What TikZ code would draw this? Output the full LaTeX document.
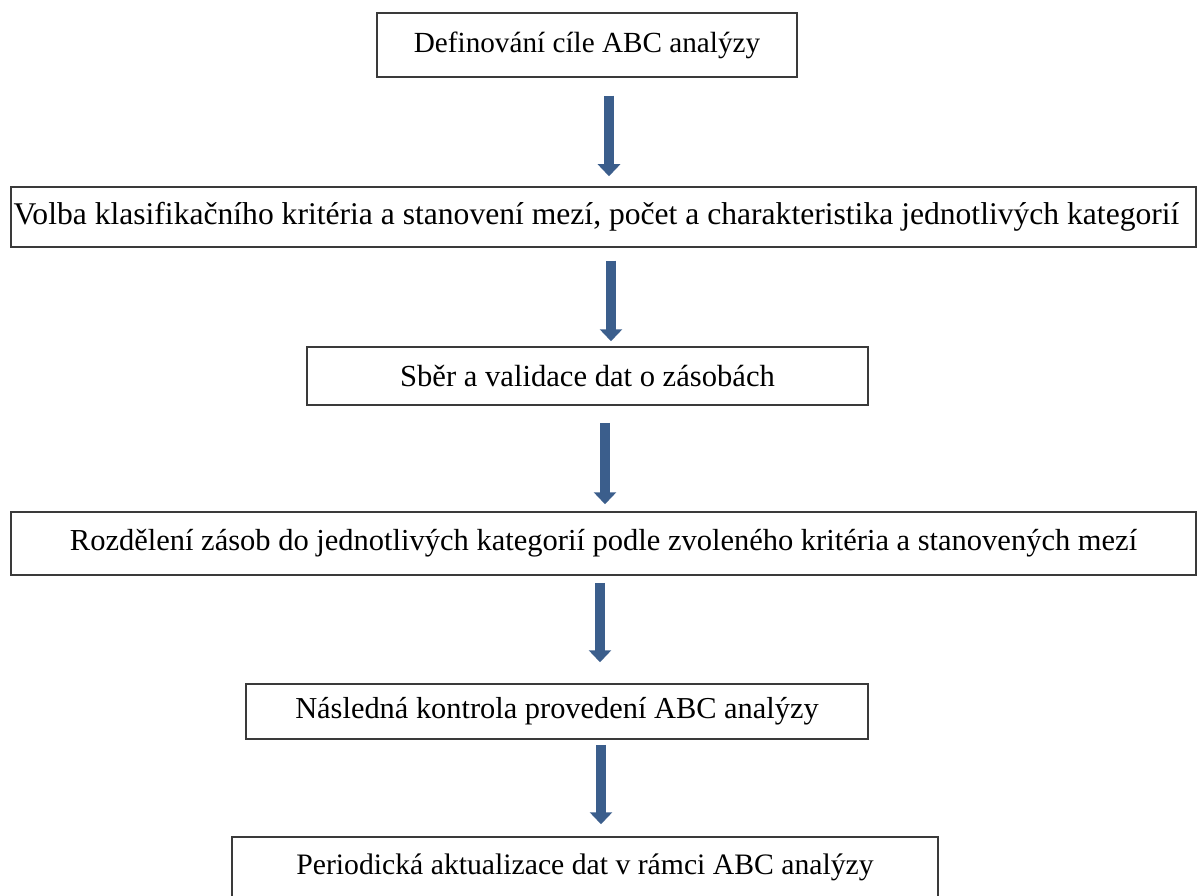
\documentclass[tikz,border=0pt]{standalone}
\usepackage{fontspec}
\setmainfont{Liberation Serif}
\usetikzlibrary{arrows.meta}
\definecolor{boxline}{HTML}{3A3A3A}
\definecolor{arrowblue}{HTML}{3B5E8C}
\begin{document}
\begin{tikzpicture}[x=1pt,y=-1pt,
  stepbox/.style={draw=boxline, line width=1.5pt, inner sep=0pt, fill=white},
  fs/.style={font=\fontsize{#1}{#1}\selectfont},
  blockarrow/.style={draw=arrowblue, line width=10pt,
    -{Triangle[width=22pt,length=12pt]}, arrowblue}]
\useasboundingbox (0,0) rectangle (1197,896);
\clip (0,0) rectangle (1197,896);
\fill[white] (0,0) rectangle (1197,896);
\node[stepbox, fs=29.2, minimum width=420pt, minimum height=64pt] (b1) at (587,45) {Definování cíle ABC analýzy};
\node[stepbox, fs=31.6, minimum width=1185pt, minimum height=60pt] (b2) at (603.5,217) {\hspace*{-14pt}Volba klasifikačního kritéria a stanovení mezí, počet a charakteristika jednotlivých kategorií};
\node[stepbox, fs=30.6, minimum width=561pt, minimum height=58pt] (b3) at (587.5,376) {Sběr a validace dat o zásobách};
\node[stepbox, fs=30.5, minimum width=1185pt, minimum height=63pt] (b4) at (603.5,543.5) {Rozdělení zásob do jednotlivých kategorií podle zvoleného kritéria a stanovených mezí};
\node[stepbox, fs=30.4, minimum width=622pt, minimum height=55pt] (b5) at (557,711.5) {Následná kontrola provedení ABC analýzy};
\node[stepbox, fs=29.7, minimum width=706pt, minimum height=60pt] (b6) at (585,867) {Periodická aktualizace dat v rámci ABC analýzy};
\coordinate (x1) at (609,0);
\coordinate (x2) at (611,0);
\coordinate (x3) at (605,0);
\coordinate (x4) at (600,0);
\coordinate (x5) at (601,0);
\draw[blockarrow, shorten <=18pt, shorten >=10pt] (b1.south -| x1) -- (b2.north -| x1);
\draw[blockarrow, shorten <=13pt, shorten >=5pt] (b2.south -| x2) -- (b3.north -| x2);
\draw[blockarrow, shorten <=17pt, shorten >=7pt] (b3.south -| x3) -- (b4.north -| x3);
\draw[blockarrow, shorten <=7pt, shorten >=21pt] (b4.south -| x4) -- (b5.north -| x4);
\draw[blockarrow, shorten <=5pt, shorten >=12pt] (b5.south -| x5) -- (b6.north -| x5);
\end{tikzpicture}
\end{document}
